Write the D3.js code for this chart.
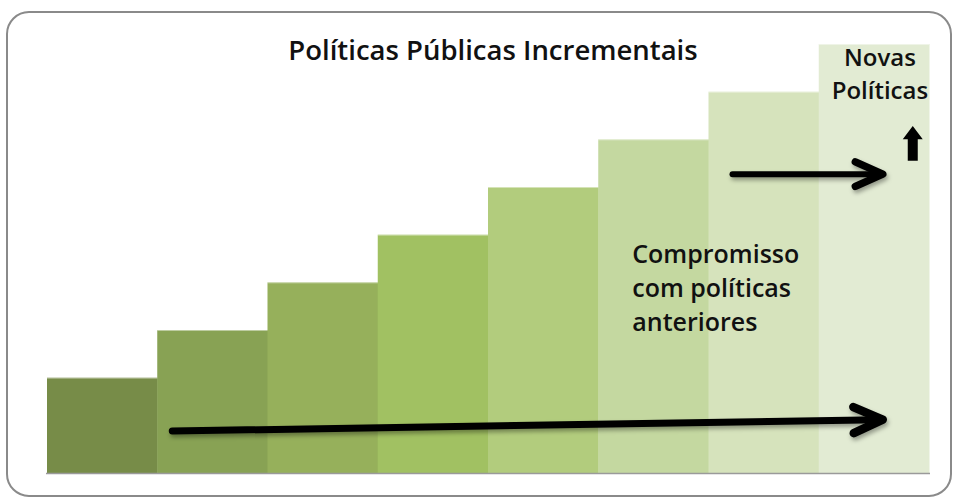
<!DOCTYPE html>
<html>
<head>
<meta charset="utf-8">
<script src="https://cdn.jsdelivr.net/npm/d3@7"></script>
<style>
  body { margin: 0; background: #fff; }
  text { font-family: "Open Sans", sans-serif; font-weight: 600; fill: #111; }
</style>
</head>
<body>
<div id="chart"></div>
<script>
const width = 955;
const height = 498;

// steps of the staircase
const categories = ["1", "2", "3", "4", "5", "6", "7", "8"];
const values     = [2, 3, 4, 5, 6, 7, 8, 9];
const colors     = ["#778c48", "#88a254", "#96b05b", "#a1c162", "#b2cc7d", "#c4d8a0", "#d6e3bc", "#e2ebd3"];

const title = "Políticas Públicas Incrementais";
const newLabel = ["Novas", "Políticas"];
const oldLabel = ["Compromisso", "com políticas", "anteriores"];

const margin = { top: 44, right: 26, bottom: 25, left: 47 };

const svg = d3.select("#chart").append("svg")
   .attr("width", width)
   .attr("height", height);

const defs = svg.append("defs");
defs.append("filter")
   .attr("id", "shadow")
   .attr("x", "-10%").attr("y", "-50%")
   .attr("width", "120%").attr("height", "200%")
   .append("feDropShadow")
   .attr("dx", 1.5).attr("dy", 3)
   .attr("stdDeviation", 2)
   .attr("flood-opacity", 0.35);

// frame
svg.append("rect")
   .attr("x", 7).attr("y", 12)
   .attr("width", 944).attr("height", 484)
   .attr("rx", 22)
   .attr("fill", "#fff")
   .attr("stroke", "#8a8a8a")
   .attr("stroke-width", 2);

const x = d3.scaleBand()
   .domain(categories)
   .range([margin.left, width - margin.right])
   .padding(0);

const y = d3.scaleLinear()
   .domain([0, 9])
   .range([height - margin.bottom, margin.top]);

const bw = x.bandwidth();

svg.selectAll("rect.bar")
   .data(values)
   .enter()
   .append("rect")
   .attr("class", "bar")
   .attr("x", (d, i) => x(categories[i]))
   .attr("width", bw + 0.5)
   .attr("y", d => y(d))
   .attr("height", d => y(0) - y(d))
   .style("fill", (d, i) => colors[i]);

// light edge on top of each step
svg.selectAll("line.edge")
   .data(values)
   .enter()
   .append("line")
   .attr("class", "edge")
   .attr("x1", (d, i) => x(categories[i]))
   .attr("x2", (d, i) => x(categories[i]) + bw)
   .attr("y1", d => y(d) + 0.5)
   .attr("y2", d => y(d) + 0.5)
   .attr("stroke", "#ffffff")
   .attr("stroke-opacity", 0.45)
   .attr("stroke-width", 1);

// baseline
svg.append("line")
   .attr("x1", x.range()[0] - 1)
   .attr("x2", x.range()[1] + 1)
   .attr("y1", y(0) + 0.5)
   .attr("y2", y(0) + 0.5)
   .attr("stroke", "#9a9a9a")
   .attr("stroke-width", 1.5);

// title
svg.append("text")
   .attr("x", 493)
   .attr("y", 60)
   .attr("text-anchor", "middle")
   .style("font-size", "27.5px")
   .text(title);

// "Novas Políticas"
svg.selectAll("text.novas")
   .data(newLabel)
   .enter()
   .append("text")
   .attr("class", "novas")
   .attr("x", x("8") + bw / 2 + 6)
   .attr("y", (d, i) => 66 + i * 33)
   .attr("text-anchor", "middle")
   .style("font-size", "24px")
   .text(d => d);

// "Compromisso com políticas anteriores"
svg.selectAll("text.comp")
   .data(oldLabel)
   .enter()
   .append("text")
   .attr("class", "comp")
   .attr("x", x("6") + 34)
   .attr("y", (d, i) => 263 + i * 34)
   .style("font-size", "25px")
   .text(d => d);

// arrows
const arrows = svg.append("g")
   .attr("filter", "url(#shadow)")
   .attr("stroke", "#000")
   .attr("fill", "none")
   .attr("stroke-linecap", "round")
   .attr("stroke-linejoin", "round");

function arrow(x1, y1, x2, y2, w, head) {
   const a = Math.atan2(y2 - y1, x2 - x1);
   arrows.append("line")
      .attr("x1", x1).attr("y1", y1)
      .attr("x2", x2 - 4 * Math.cos(a)).attr("y2", y2 - 4 * Math.sin(a))
      .attr("stroke-width", w);
   const p = d3.path();
   const s = 0.42;
   p.moveTo(x2 - head * Math.cos(a - s), y2 - head * Math.sin(a - s));
   p.lineTo(x2, y2);
   p.lineTo(x2 - head * Math.cos(a + s), y2 - head * Math.sin(a + s));
   arrows.append("path")
      .attr("d", p.toString())
      .attr("stroke-width", w + 1.5);
}

// commitment to previous policies (long, bottom)
arrow(x("2") + 15, y(0.88), x("8") + 64, y(1.12), 7, 32);
// upper arrow
arrow(x("7") + 24, y(6.27), x("8") + 64, y(6.27), 6, 30);

// small block arrow up
const ux = x("8") + 94;
const up = d3.path();
up.moveTo(ux - 5, y(6.55));
up.lineTo(ux - 5, y(7.0));
up.lineTo(ux - 10, y(7.0));
up.lineTo(ux, y(7.28));
up.lineTo(ux + 10, y(7.0));
up.lineTo(ux + 5, y(7.0));
up.lineTo(ux + 5, y(6.55));
up.closePath();
svg.append("path")
   .attr("d", up.toString())
   .attr("fill", "#000");
</script>
</body>
</html>
